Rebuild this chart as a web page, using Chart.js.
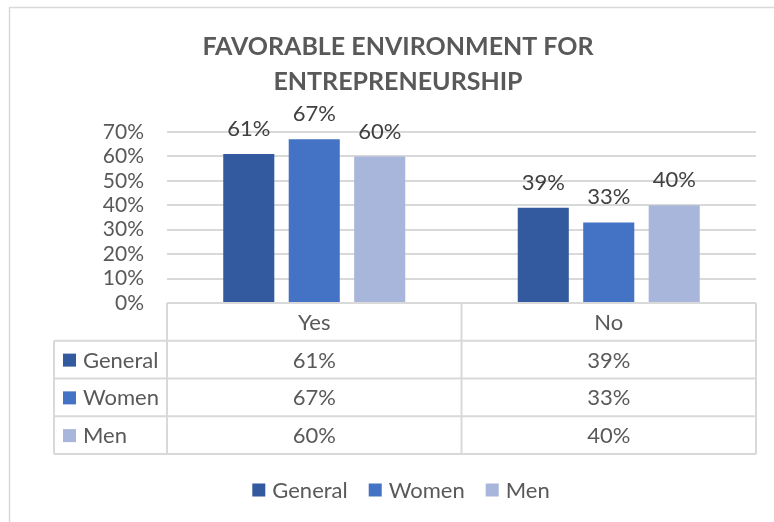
<!DOCTYPE html>
<html>
<head>
<meta charset="utf-8">
<script src="https://cdn.jsdelivr.net/npm/chart.js@4/dist/chart.umd.min.js"></script>
<style>
  html, body { margin: 0; padding: 0; background: #ffffff; }
  #wrap { width: 774px; height: 522px; position: relative; }
</style>
</head>
<body>
<div id="wrap"><canvas id="c" width="774" height="522"></canvas></div>
<script>
// ---- data ----
const titleLines = ['FAVORABLE ENVIRONMENT FOR', 'ENTREPRENEURSHIP'];
const categories = ['Yes', 'No'];
const seriesNames = ['General', 'Women', 'Men'];
const general = [61, 39];
const women = [67, 33];
const men = [60, 40];
const yTickValues = [0, 10, 20, 30, 40, 50, 60, 70];

// ---- styles ----
const FONT = 'Lato, "Open Sans", "DejaVu Sans", sans-serif';
const colors = ['#335A9F', '#4472C4', '#A8B6DB'];
const TEXT = '#595959';
const LABEL = '#404040';
const LINE = '#D9D9D9';
const FS = 22;

const seriesValues = [general, women, men];

const framePlugin = {
  id: 'frame',
  beforeDraw(chart) {
    const ctx = chart.ctx;
    ctx.save();
    ctx.fillStyle = '#ffffff';
    ctx.fillRect(0, 0, chart.width, chart.height);
    ctx.strokeStyle = LINE;
    ctx.lineWidth = 1.5;
    ctx.beginPath();
    ctx.moveTo(9.5, chart.height);
    ctx.lineTo(9.5, 7.5);
    ctx.lineTo(chart.width, 7.5);
    ctx.stroke();
    ctx.restore();
  }
};

const tablePlugin = {
  id: 'dataTable',
  afterDraw(chart) {
    const ctx = chart.ctx;
    const x = chart.scales.x;
    const ca = chart.chartArea;
    const top = ca.bottom;
    const rowH = (x.bottom - top) / (seriesNames.length + 1);
    const colLeft = chart.scales.y.left + 14;
    const catW = x.width / categories.length;

    ctx.save();
    // data labels above bars
    ctx.font = FS + 'px ' + FONT;
    ctx.fillStyle = LABEL;
    ctx.textAlign = 'center';
    ctx.textBaseline = 'middle';
    chart.data.datasets.forEach((ds, i) => {
      chart.getDatasetMeta(i).data.forEach((bar, j) => {
        ctx.fillText(ds.data[j] + '%', bar.x, bar.y - 25);
      });
    });

    // table lines
    ctx.strokeStyle = LINE;
    ctx.lineWidth = 2;
    ctx.beginPath();
    ctx.moveTo(x.left, top); ctx.lineTo(x.right, top);
    for (let r = 1; r <= seriesNames.length + 1; r++) {
      const yy = top + r * rowH;
      ctx.moveTo(colLeft, yy); ctx.lineTo(x.right, yy);
    }
    for (let c = 0; c <= categories.length; c++) {
      const xx = x.left + c * catW;
      ctx.moveTo(xx, top); ctx.lineTo(xx, x.bottom);
    }
    ctx.moveTo(colLeft, top + rowH); ctx.lineTo(colLeft, x.bottom);
    ctx.stroke();

    // header text
    ctx.font = FS + 'px ' + FONT;
    ctx.fillStyle = TEXT;
    ctx.textAlign = 'center';
    categories.forEach((cat, j) => {
      ctx.fillText(cat, x.getPixelForValue(j), top + rowH / 2 + 1);
    });
    // rows
    seriesNames.forEach((name, i) => {
      const cy = top + (i + 1.5) * rowH + 1;
      ctx.fillStyle = colors[i];
      ctx.fillRect(colLeft + 9, cy - 7, 13, 13);
      ctx.fillStyle = TEXT;
      ctx.textAlign = 'left';
      ctx.fillText(name, colLeft + 29, cy);
      ctx.textAlign = 'center';
      seriesValues[i].forEach((v, j) => {
        ctx.fillText(v + '%', x.getPixelForValue(j), cy);
      });
    });

    // legend at bottom
    ctx.font = FS + 'px ' + FONT;
    const gapBox = 7, gapItem = 21, box = 13;
    const widths = seriesNames.map(n => box + gapBox + ctx.measureText(n).width);
    const total = widths.reduce((a, b) => a + b, 0) + gapItem * (widths.length - 1);
    let lx = 401 - total / 2;
    const ly = 490;
    seriesNames.forEach((n, i) => {
      ctx.fillStyle = colors[i];
      ctx.fillRect(lx, ly - 6.5, box, box);
      ctx.fillStyle = TEXT;
      ctx.textAlign = 'left';
      ctx.fillText(n, lx + box + gapBox, ly + 1);
      lx += widths[i] + gapItem;
    });
    ctx.restore();
  }
};

new Chart(document.getElementById('c'), {
  type: 'bar',
  data: {
    labels: categories,
    datasets: seriesNames.map((n, i) => ({
      label: n,
      data: seriesValues[i],
      backgroundColor: colors[i],
      borderWidth: 0,
      categoryPercentage: 0.667,
      barPercentage: 0.78
    }))
  },
  options: {
    responsive: false,
    animation: false,
    devicePixelRatio: 1,
    layout: { padding: { left: 40, right: 18, top: 0, bottom: 68 } },
    plugins: {
      legend: { display: false },
      tooltip: { enabled: false },
      title: {
        display: true,
        text: titleLines,
        color: TEXT,
        font: { family: FONT, size: 25, weight: 'bold', lineHeight: 1.4 },
        padding: { top: 29, bottom: 33 }
      }
    },
    scales: {
      x: {
        ticks: { display: false },
        grid: { display: false },
        border: { display: false },
        afterFit(s) { s.height = 151; }
      },
      y: {
        min: 0,
        max: 70,
        afterBuildTicks(s) { s.ticks = yTickValues.map(v => ({ value: v })); },
        ticks: {
          color: TEXT,
          padding: 23,
          autoSkip: false,
          font: { family: FONT, size: 21 },
          callback: v => v + '%'
        },
        grid: { color: LINE, lineWidth: 2, drawTicks: false },
        border: { display: false },
        afterFit(s) { s.width = 127; }
      }
    }
  },
  plugins: [framePlugin, tablePlugin]
});
</script>
</body>
</html>
